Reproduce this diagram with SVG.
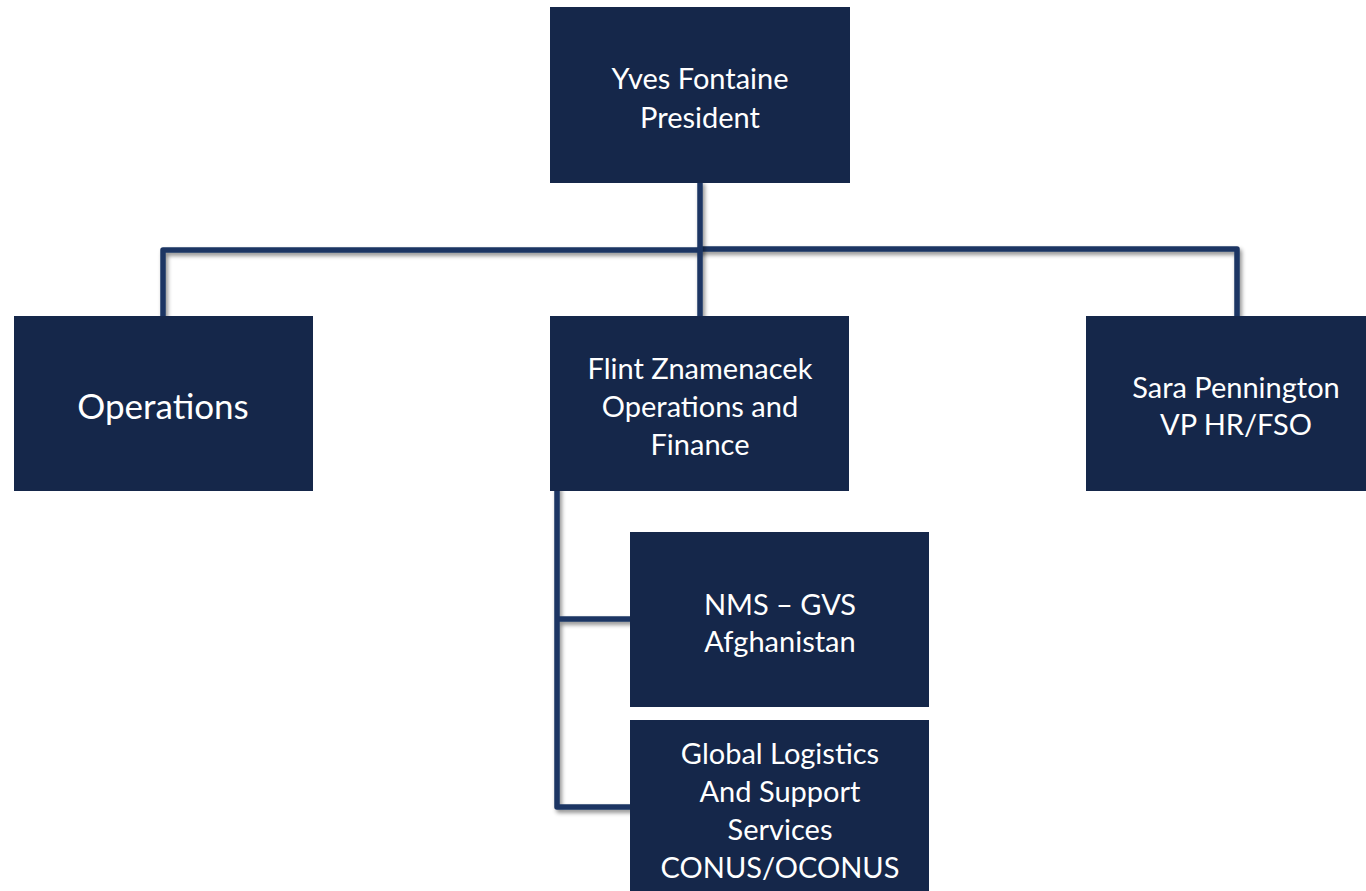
<svg xmlns="http://www.w3.org/2000/svg" width="1366" height="891" viewBox="0 0 1366 891">
<defs>
<filter id="sh" filterUnits="userSpaceOnUse" x="0" y="0" width="1366" height="891">
<feDropShadow dx="2" dy="3" stdDeviation="2" flood-color="#000" flood-opacity="0.45"/>
</filter>
<style>
.box{fill:#15274a}
.t{fill:#fff;font-family:Lato,"Open Sans",sans-serif;font-size:29px;text-anchor:middle;dominant-baseline:central}
.big{font-size:35px}
.c{fill:none;stroke:#1d3563;stroke-width:5.5;stroke-linecap:round;stroke-linejoin:round;filter:url(#sh)}
</style>
</defs>
<rect width="1366" height="891" fill="#fff"/>
<g id="connectors">
<path class="c" d="M163 316 V250 H700 M700 249 H1237 V316"/>
<path class="c" d="M700 183 V316"/>
<path class="c" d="M557 488 V807 H632 M557 619 H632"/>
</g>
<g id="president">
<rect class="box" x="550" y="7" width="300" height="176"/>
<text class="t" x="700" y="77">Yves Fontaine</text>
<text class="t" x="700" y="116">President</text>
</g>
<g id="operations">
<rect class="box" x="14" y="316" width="299" height="175"/>
<text class="t big" x="163" y="405">Operations</text>
</g>
<g id="flint">
<rect class="box" x="550" y="316" width="299" height="175"/>
<text class="t" x="700" y="367">Flint Znamenacek</text>
<text class="t" x="700" y="405">Operations and</text>
<text class="t" x="700" y="443">Finance</text>
</g>
<g id="sara">
<rect class="box" x="1086" y="316" width="280" height="175"/>
<text class="t" x="1236" y="386">Sara Pennington</text>
<text class="t" x="1236" y="423">VP HR/FSO</text>
</g>
<g id="nms">
<rect class="box" x="630" y="532" width="299" height="175"/>
<text class="t" x="780" y="603">NMS – GVS</text>
<text class="t" x="780" y="640">Afghanistan</text>
</g>
<g id="global">
<rect class="box" x="630" y="720" width="299" height="171"/>
<text class="t" x="780" y="752">Global Logistics</text>
<text class="t" x="780" y="790">And Support</text>
<text class="t" x="780" y="828">Services</text>
<text class="t" x="780" y="866">CONUS/OCONUS</text>
</g>
</svg>
